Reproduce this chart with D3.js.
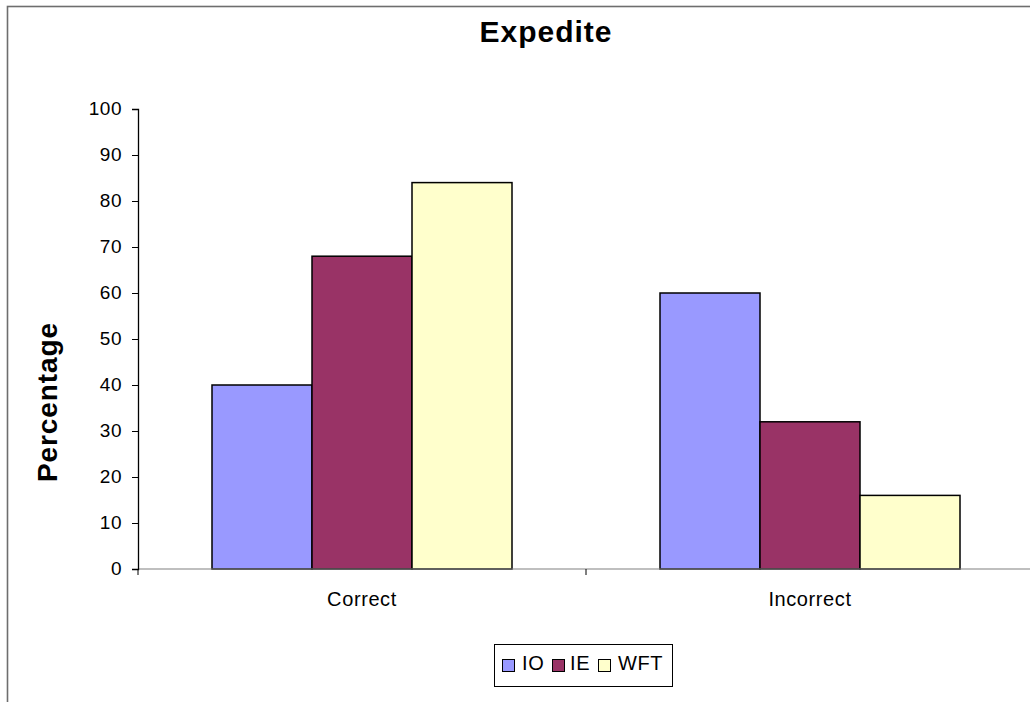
<!DOCTYPE html>
<html>
<head>
<meta charset="utf-8">
<script src="https://cdn.jsdelivr.net/npm/d3@7"></script>
<style>
  html, body { margin: 0; padding: 0; background: #fff; }
  svg { display: block; font-family: "Liberation Sans", Arial, sans-serif; }
</style>
</head>
<body>
<svg id="chart" width="1030" height="702"></svg>
<script>
const categories = ["Correct", "Incorrect"];
const seriesNames = ["IO", "IE", "WFT"];
const seriesColors = ["#9999FF", "#993366", "#FFFFCC"];
const IO = [40, 60];
const IE = [68, 32];
const WFT = [84, 16];
const yTicks = [0, 10, 20, 30, 40, 50, 60, 70, 80, 90, 100];
const titleText = "Expedite";
const yLabel = "Percentage";

const seriesValues = [IO, IE, WFT];

const svg = d3.select("#chart");

// outer chart frame (extends beyond the visible area on right/bottom)
svg.append("rect")
  .attr("x", 7.5).attr("y", 6.5)
  .attr("width", 1060).attr("height", 740)
  .attr("fill", "#fff")
  .attr("stroke", "#6e6e6e")
  .attr("stroke-width", 1.6);

const plotLeft = 138, plotRight = 1034, plotTop = 109, plotBottom = 569;

const x0 = d3.scaleBand().domain(categories).range([plotLeft, plotRight]).paddingInner(0).paddingOuter(0);
const x1 = d3.scaleBand().domain(seriesNames).range([0, x0.bandwidth()]).paddingInner(0).paddingOuter(0.74);
const y = d3.scaleLinear().domain([0, 100]).range([plotBottom, plotTop]);

// bars
const groups = svg.append("g").selectAll("g")
  .data(categories)
  .join("g")
  .attr("transform", d => `translate(${x0(d)},0)`);

groups.selectAll("rect")
  .data((c, ci) => seriesNames.map((s, si) => ({ s, si, v: seriesValues[si][ci] })))
  .join("rect")
  .attr("x", d => x1(d.s))
  .attr("y", d => y(d.v))
  .attr("width", x1.bandwidth())
  .attr("height", d => y(0) - y(d.v))
  .attr("fill", d => seriesColors[d.si])
  .attr("stroke", "#000")
  .attr("stroke-width", 1.5);

// x axis
const xAxisG = svg.append("g").attr("transform", `translate(0,${plotBottom})`);
xAxisG.append("line")
  .attr("x1", plotLeft).attr("x2", plotRight + 10)
  .attr("y1", 0).attr("y2", 0)
  .attr("stroke", "#808080").attr("stroke-width", 1.2);
const boundaries = categories.map(c => x0(c)).concat([x0(categories[categories.length - 1]) + x0.bandwidth()]);
xAxisG.selectAll("line.tick")
  .data(boundaries)
  .join("line")
  .attr("class", "tick")
  .attr("x1", d => d).attr("x2", d => d)
  .attr("y1", 0).attr("y2", 6)
  .attr("stroke", "#000").attr("stroke-width", 1);
xAxisG.selectAll("text")
  .data(categories)
  .join("text")
  .attr("x", d => x0(d) + x0.bandwidth() / 2)
  .attr("y", 37)
  .attr("text-anchor", "middle")
  .attr("font-size", "20px")
  .attr("letter-spacing", "0.6px")
  .attr("fill", "#000")
  .text(d => d);

// y axis
const yAxis = d3.axisLeft(y).tickValues(yTicks).tickSize(6).tickPadding(10).tickFormat(d3.format("d"));
const yAxisG = svg.append("g").attr("transform", `translate(${plotLeft},0)`).call(yAxis);
yAxisG.select(".domain").attr("stroke", "#000").attr("stroke-width", 1.3);
yAxisG.selectAll(".tick line").attr("stroke", "#000").attr("stroke-width", 1);
yAxisG.selectAll(".tick text")
  .attr("font-family", "Liberation Sans, Arial, sans-serif")
  .attr("font-size", "19px")
  .attr("letter-spacing", "0.5px")
  .attr("fill", "#000")
  .attr("dy", "0.3em");

// title
svg.append("text")
  .attr("x", 546).attr("y", 42)
  .attr("text-anchor", "middle")
  .attr("font-size", "30px")
  .attr("font-weight", "bold")
  .attr("letter-spacing", "1px")
  .text(titleText);

// y label
svg.append("text")
  .attr("transform", "translate(57,402) rotate(-90)")
  .attr("text-anchor", "middle")
  .attr("font-size", "28px")
  .attr("font-weight", "bold")
  .attr("letter-spacing", "0.9px")
  .text(yLabel);

// legend
const legend = svg.append("g");
legend.append("rect")
  .attr("x", 494.5).attr("y", 644.5)
  .attr("width", 178).attr("height", 42)
  .attr("fill", "#fff").attr("stroke", "#000").attr("stroke-width", 1);
const swatchX = [502, 552, 598];
const textX = [522, 570, 618];
seriesNames.forEach((s, i) => {
  legend.append("rect")
    .attr("x", swatchX[i] + 0.5).attr("y", 659.5)
    .attr("width", 12).attr("height", 12)
    .attr("fill", seriesColors[i]).attr("stroke", "#000").attr("stroke-width", 1);
  legend.append("text")
    .attr("x", textX[i]).attr("y", 670)
    .attr("font-size", "20px")
    .attr("letter-spacing", "0.6px")
    .text(s);
});
</script>
</body>
</html>
